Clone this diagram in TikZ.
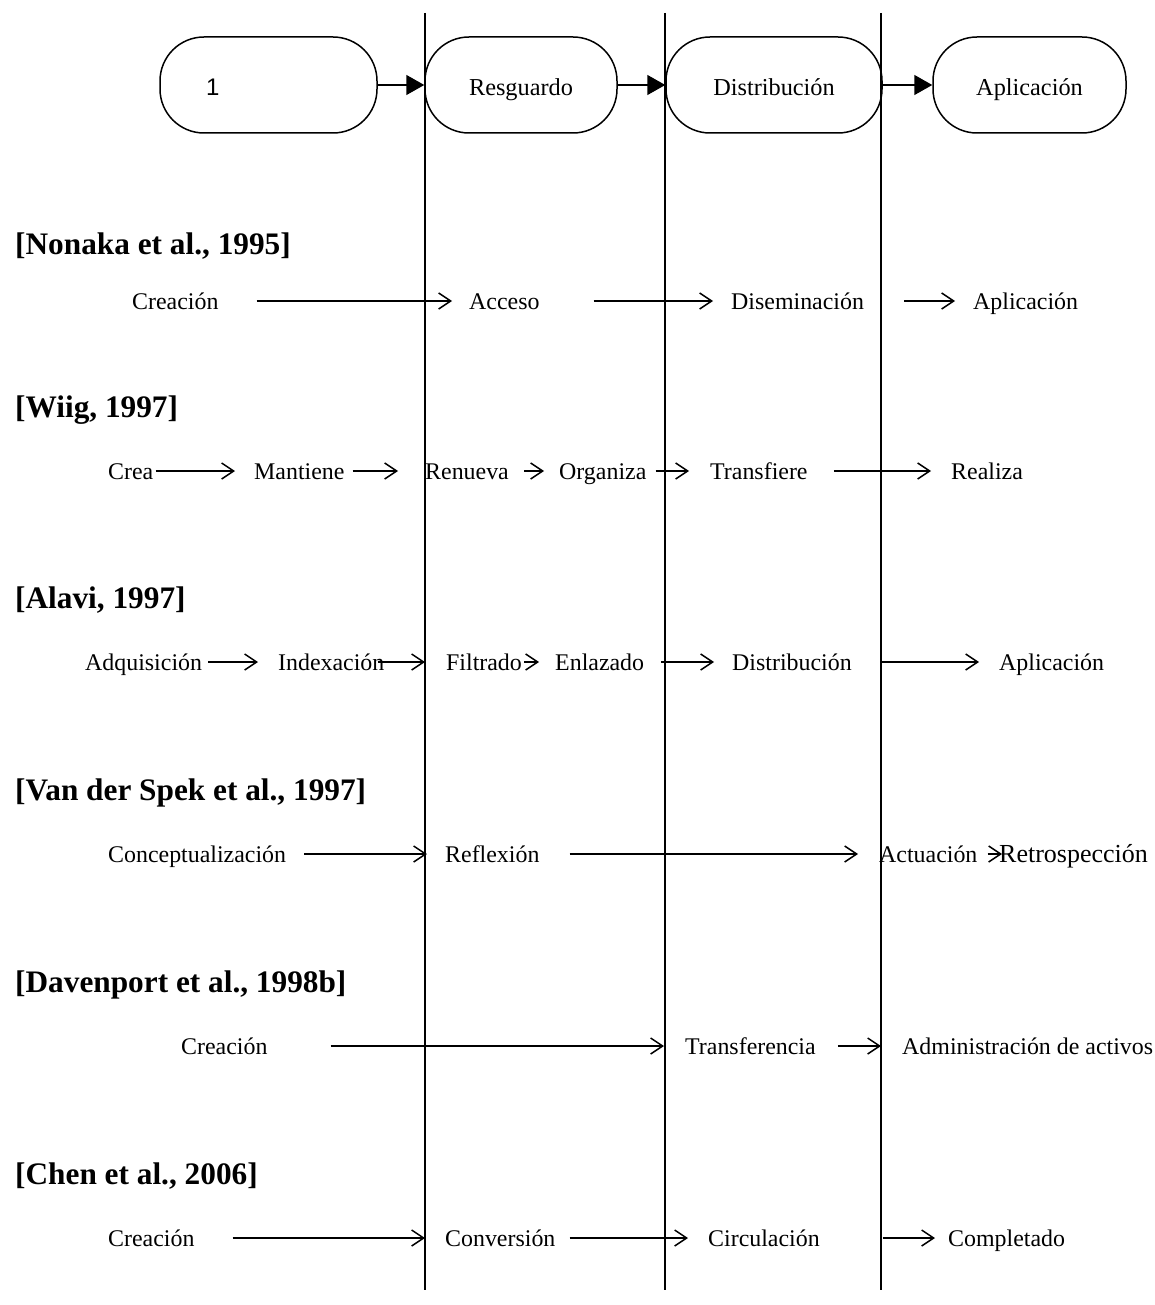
\documentclass[tikz,border=0pt]{standalone}
\usepackage{fontspec}
\setmainfont{Liberation Serif}
\newfontfamily\arialfont{Liberation Sans}
\usetikzlibrary{arrows.meta}

\begin{document}
\begin{tikzpicture}[x=1pt,y=-1pt,
  lane/.style={line width=1.5pt},
  stage/.style={draw, line width=1.5pt, rounded corners=44pt, minimum height=96pt,
    inner sep=0pt, text height=25pt, text depth=3pt, font=\fontsize{24.3}{29}\selectfont},
  link/.style={line width=1.5pt, -{Triangle[length=18pt,width=20pt]}},
  author/.style={anchor=base west, inner sep=0pt, font=\fontsize{31.3}{37}\selectfont\bfseries},
  item/.style={anchor=west, inner sep=0pt, text height=19pt, text depth=3pt,
    font=\fontsize{23.9}{29}\selectfont},
  flow/.style={line width=1.5pt, -{Straight Barb[length=12pt,width=16pt,line width=1.5pt]}},
  gap/.style 2 args={shorten <=#1pt, shorten >=#2pt},
]
\useasboundingbox (0,0) rectangle (1155,1305);

% phase separators
\coordinate (l1t) at (425,13);  \coordinate (l1b) at (425,1290);
\coordinate (l2t) at (665,13);  \coordinate (l2b) at (665,1290);
\coordinate (l3t) at (881,13);  \coordinate (l3b) at (881,1290);
\draw[lane] (l1t) -- (l1b);
\draw[lane] (l2t) -- (l2b);
\draw[lane] (l3t) -- (l3b);

% process stages
\node[stage, minimum width=217pt] (s1) at (268.5,85)
  {\arialfont\fontsize{24}{29}\selectfont\makebox[125pt][l]{1}};
\node[stage, minimum width=192pt] (s2) at (521,85) {Resguardo};
\node[stage, minimum width=216pt] (s3) at (774,85) {Distribución};
\node[stage, minimum width=193pt] (s4) at (1029.5,85) {Aplicación};
\draw[link] (s1) -- (s2);
\draw[link] (s2) -- (s3);
\draw[link] (s3) -- (s4);

% Nonaka
\node[author] (hN) at (15,255) {[Nonaka et al., 1995]};
\node[item] (n1) at (132,301) {Creación};
\node[item] (n2) at (469,301) {Acceso};
\node[item] (n3) at (731,301) {Diseminación};
\node[item] (n4) at (973,301) {Aplicación};
\draw[flow, gap={38}{17}] (n1.east) -- (n2.west);
\draw[flow, gap={54}{18}] (n2.east) -- (n3.west);
\draw[flow, gap={40}{18}] (n3.east) -- (n4.west);

% Wiig
\node[author] (hW) at (15,417) {[Wiig, 1997]};
\node[item] (w1) at (108,471) {Crea};
\node[item] (w2) at (254,471) {Mantiene};
\node[item] (w3) at (425,471) {Renueva};
\node[item] (w4) at (559,471) {Organiza};
\node[item] (w5) at (710,471) {Transfiere};
\node[item] (w6) at (951,471) {Realiza};
\draw[flow, gap={2}{19}] (w1.east) -- (w2.west);
\draw[flow, gap={8}{27}] (w2.east) -- (w3.west);
\draw[flow, gap={15}{15}] (w3.east) -- (w4.west);
\draw[flow, gap={9}{21}] (w4.east) -- (w5.west);
\draw[flow, gap={26}{20}] (w5.east) -- (w6.west);

% Alavi
\node[author] (hA) at (15,608) {[Alavi, 1997]};
\node[item] (a1) at (85,662) {Adquisición};
\node[item] (a2) at (278,662) {Indexación};
\node[item] (a3) at (446,662) {Filtrado};
\node[item] (a4) at (555,662) {Enlazado};
\node[item] (a5) at (732,662) {Distribución};
\node[item] (a6) at (999,662) {Aplicación};
\draw[flow, gap={6}{20}] (a1.east) -- (a2.west);
\draw[flow, gap={-7}{21}] (a2.east) -- (a3.west);
\draw[flow, gap={2}{16}] (a3.east) -- (a4.west);
\draw[flow, gap={17}{18}] (a4.east) -- (a5.west);
\draw[flow, gap={29}{20}] (a5.east) -- (a6.west);

% Van der Spek
\node[author] (hV) at (15,800) {[Van der Spek et al., 1997]};
\node[item] (v1) at (108,854) {Conceptualización};
\node[item] (v2) at (445,854) {Reflexión};
\node[item] (v3) at (879,854) {Actuación};
\node[item, font=\fontsize{26}{31}\selectfont] (v4) at (999,854) {Retrospección};
\draw[flow, gap={18}{18}] (v1.east) -- (v2.west);
\draw[flow, gap={30}{21}] (v2.east) -- (v3.west);
\draw[flow, gap={10}{-3}] (v3.east) -- (v4.west);

% Davenport
\node[author] (hD) at (15,992) {[Davenport et al., 1998b]};
\node[item] (d1) at (181,1046) {Creación};
\node[item] (d2) at (685,1046) {Transferencia};
\node[item] (d3) at (902,1046) {Administración de activos};
\draw[flow, gap={63}{21}] (d1.east) -- (d2.west);
\draw[flow, gap={22}{21}] (d2.east) -- (d3.west);

% Chen
\node[author] (hC) at (15,1184) {[Chen et al., 2006]};
\node[item] (c1) at (108,1238) {Creación};
\node[item] (c2) at (445,1238) {Conversión};
\node[item] (c3) at (708,1238) {Circulación};
\node[item] (c4) at (948,1238) {Completado};
\draw[flow, gap={38}{20}] (c1.east) -- (c2.west);
\draw[flow, gap={14}{20}] (c2.east) -- (c3.west);
\draw[flow, gap={63}{13}] (c3.east) -- (c4.west);
\end{tikzpicture}
\end{document}
